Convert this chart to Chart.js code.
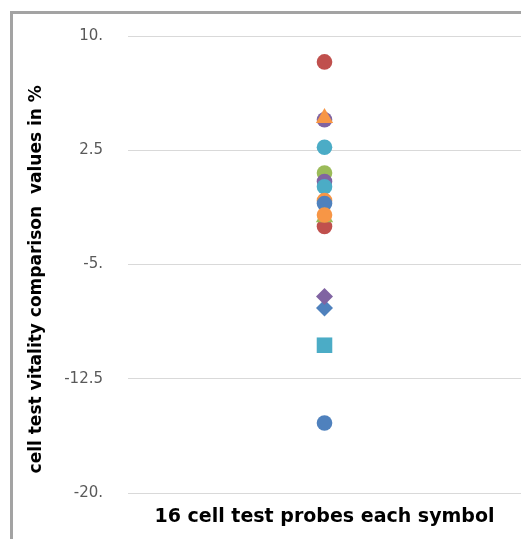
<!DOCTYPE html>
<html>
<head>
<meta charset="utf-8">
<script src="https://cdn.jsdelivr.net/npm/chart.js@4.4.0/dist/chart.umd.min.js"></script>
<style>
    html, body { margin: 0; padding: 0; background: #fff; }
    #wrap { position: relative; width: 521px; height: 539px; overflow: hidden; }
    #frame { position: absolute; left: 10px; top: 11px; width: 530px; height: 540px;
             border-top: 3px solid #a3a3a3; border-left: 3px solid #a3a3a3; }
    #myChart { position: absolute; left: 0; top: 0; }
</style>
</head>
<body>
<div id="wrap">
    <div id="frame"></div>
    <canvas id="myChart" width="521" height="539"></canvas>
</div>
<script>
// one value per probe
const probeValues = [8.3, 4.62, 4.5, 2.7, 1.0, 0.45, 0.1, -0.8, -1.0, -1.75, -1.9, -2.5, -7.1, -7.85, -10.3, -15.4];
const probeColors = ["#C0504D", "#F79646", "#8064A2", "#4BACC6", "#9BBB59", "#8064A2", "#4BACC6", "#F79646",
    "#4F81BD", "#F79646", "#9BBB59", "#C0504D", "#8064A2", "#4F81BD", "#4BACC6", "#4F81BD"];
const probeShapes = ["circle", "triangle", "circle", "circle", "circle", "circle", "circle", "circle",
    "circle", "circle", "triangle", "circle", "rectRot", "rectRot", "rect", "circle"];
// drawing order: higher number drawn underneath
const probeOrder = [1, 0, 2, 1, 9, 8, 7, 6, 5, 3, 4, 4, 1, 1, 1, 1];

const yTicks = [10, 2.5, -5, -12.5, -20];
const yTickText = ["10.", "2.5", "-5.", "-12.5", "-20."];
const categories = [""];

function markerRadius(shape) {
    if (shape === "rect") return 11;
    if (shape === "triangle") return 10;
    if (shape === "rectRot") return 8.5;
    return 7.8;
}

const datasets = probeValues.map((v, i) => ({
    label: "probe " + (i + 1),
    data: [v],
    showLine: false,
    order: probeOrder[i],
    pointStyle: probeShapes[i],
    pointRadius: markerRadius(probeShapes[i]),
    pointBackgroundColor: probeColors[i],
    pointBorderColor: probeColors[i],
    pointBorderWidth: 0,
}));

const ctx = document.getElementById("myChart");

new Chart(ctx, {
    type: "line",
    data: {
        labels: categories,
        datasets: datasets,
    },
    options: {
        responsive: false,
        animation: false,
        layout: { autoPadding: false, padding: { left: 12, top: 36, right: 0, bottom: 0 } },
        plugins: {
            legend: { display: false },
            tooltip: { enabled: false },
        },
        scales: {
            x: {
                offset: true,
                grid: { display: false },
                border: { display: false },
                ticks: { display: false },
                title: {
                    display: true,
                    text: "16 cell test probes each symbol",
                    color: "#000",
                    font: { family: "DejaVu Sans", size: 19, weight: "bold" },
                    padding: { top: 0, bottom: 11 },
                },
                afterFit: (scale) => { scale.height = 46; },
            },
            y: {
                min: -20,
                max: 10,
                afterBuildTicks: (scale) => { scale.ticks = yTicks.map((v) => ({ value: v })); },
                ticks: {
                    callback: (value) => yTickText[yTicks.indexOf(value)],
                    color: "#595959",
                    padding: 25,
                    font: { family: "DejaVu Sans", size: 15 },
                },
                grid: { color: "#d9d9d9", lineWidth: 1, drawTicks: false },
                border: { display: false },
                title: {
                    display: true,
                    // trailing spaces push the rotated text a little lower, as in the original
                    text: "cell test vitality comparison  values in %     ",
                    color: "#000",
                    font: { family: "DejaVu Sans", size: 17, weight: "bold" },
                    padding: { top: 14, bottom: 0 },
                },
                afterFit: (scale) => { scale.width = 116; },
            },
        },
    },
});
</script>
</body>
</html>
